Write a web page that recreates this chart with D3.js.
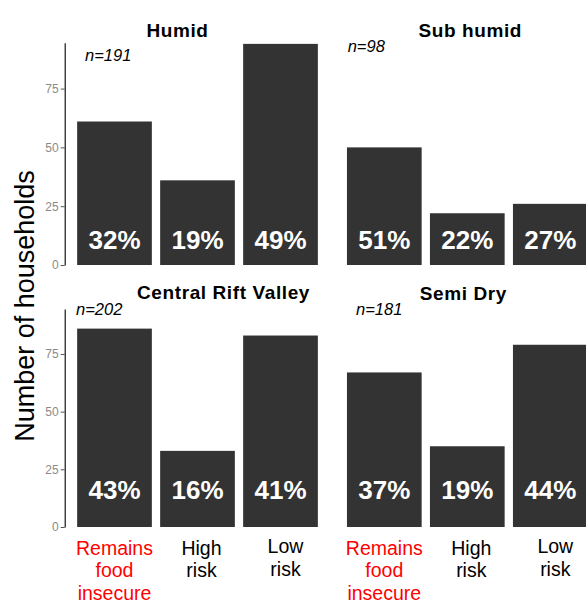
<!DOCTYPE html>
<html>
<head>
<meta charset="utf-8">
<script src="https://cdn.jsdelivr.net/npm/d3@7"></script>
<style>
  html, body { margin: 0; padding: 0; background: #fff; }
  svg { display: block; font-family: "Liberation Sans", Arial, Helvetica, sans-serif; }
</style>
</head>
<body>
<div id="chart"></div>
<script>
// ---- Data ----
const categories = ["Remains food insecure", "High risk", "Low risk"];
const categoryLines = [["Remains", "food", "insecure"], ["High", "risk"], ["Low", "risk"]];
const zones = ["Humid", "Sub humid", "Central Rift Valley", "Semi Dry"];
const sampleSizes = [191, 98, 202, 181];
const humidCounts = [61, 36, 94];
const subHumidCounts = [50, 22, 26];
const riftValleyCounts = [86, 33, 83];
const semiDryCounts = [67, 35, 79];
const yTicks = [0, 25, 50, 75];

const zoneCounts = [humidCounts, subHumidCounts, riftValleyCounts, semiDryCounts];

// ---- Layout (px) ----
const W = 586, H = 604;
const panelW = 265.6;
const colX = [64.7, 334.5];
const rows = [{ top: 42.7, bottom: 265 }, { top: 309, bottom: 527 }];
// hand placed annotations, as in the original figure
const titlePos = [{ dx: -20, y: 36.5 }, { dx: 3, y: 36.5 }, { dx: 26, y: 298.5 }, { dx: -4, y: 300 }];
const nPos = [{ dx: 20.3, y: 60.5 }, { dx: 13.2, y: 52.3 }, { dx: 11.3, y: 315 }, { dx: 21.5, y: 315 }];
const pctLift = [16, 28];
const labelDx = [0, 4, 5];

const svg = d3.select("#chart").append("svg")
  .attr("width", W).attr("height", H)
  .style("overflow", "hidden");

const x = d3.scaleBand()
  .domain(categories)
  .range([0, panelW])
  .paddingInner(0.1)
  .paddingOuter(0.15);

zones.forEach((zone, i) => {
  const col = i % 2, row = Math.floor(i / 2);
  const r = rows[row];
  const y = d3.scaleLinear().domain([0, 94.5]).range([r.bottom, r.top]);
  const g = svg.append("g").attr("transform", `translate(${colX[col]},0)`);
  const counts = zoneCounts[i];
  const data = categories.map((c, k) => ({ cat: c, k, v: counts[k] }));

  // bars
  g.selectAll("rect.bar")
    .data(data)
    .join("rect")
    .attr("class", "bar")
    .attr("x", d => x(d.cat))
    .attr("width", x.bandwidth())
    .attr("y", d => y(d.v))
    .attr("height", d => y(0) - y(d.v))
    .attr("fill", "#333333");

  // percentage labels
  g.selectAll("text.pct")
    .data(data)
    .join("text")
    .attr("class", "pct")
    .attr("x", d => x(d.cat) + x.bandwidth() / 2)
    .attr("y", r.bottom - pctLift[row])
    .attr("text-anchor", "middle")
    .attr("fill", "#fff")
    .style("font-size", "26px")
    .style("font-weight", "bold")
    .text(d => Math.round(d.v / sampleSizes[i] * 100) + "%");

  // facet title
  g.append("text")
    .attr("x", panelW / 2 + titlePos[i].dx)
    .attr("y", titlePos[i].y)
    .attr("text-anchor", "middle")
    .style("font-size", "19px")
    .style("font-weight", "bold")
    .style("letter-spacing", "0.6px")
    .attr("fill", "#000")
    .text(zone);

  // n label
  g.append("text")
    .attr("x", nPos[i].dx)
    .attr("y", nPos[i].y)
    .style("font-size", "16.5px")
    .style("font-style", "italic")
    .attr("fill", "#000")
    .text("n=" + sampleSizes[i]);

  // y axis on left column only
  if (col === 0) {
    const ax = g.append("g")
      .call(d3.axisLeft(y).tickValues(yTicks).tickSize(4).tickPadding(2).tickSizeOuter(0));
    ax.select(".domain").attr("stroke", "#000").attr("stroke-width", 1.1);
    ax.selectAll(".tick line").attr("stroke", "#555");
    ax.selectAll(".tick text")
      .attr("fill", "#8a8a8a")
      .style("font-size", "12px")
      .style("font-family", "'Liberation Sans', Arial, sans-serif");
  }

  // x labels on bottom row only
  if (row === 1) {
    const lbl = g.selectAll("text.xlab")
      .data(data)
      .join("text")
      .attr("class", "xlab")
      .attr("text-anchor", "middle")
      .attr("fill", d => d.k === 0 ? "#ff0000" : "#000")
      .style("font-size", "19.5px");
    lbl.selectAll("tspan")
      .data(d => categoryLines[d.k].map(t => ({ t, d })))
      .join("tspan")
      .attr("x", e => x(e.d.cat) + x.bandwidth() / 2 + labelDx[e.d.k])
      .attr("y", (e, j) => 554.5 + j * 22.8 - (e.d.k === 2 ? 1.5 : 0))
      .text(e => e.t);
  }
});

// y axis title
svg.append("text")
  .attr("transform", "translate(34,306) rotate(-90)")
  .attr("text-anchor", "middle")
  .style("font-size", "27px")
  .attr("fill", "#000")
  .text("Number of households");
</script>
</body>
</html>
